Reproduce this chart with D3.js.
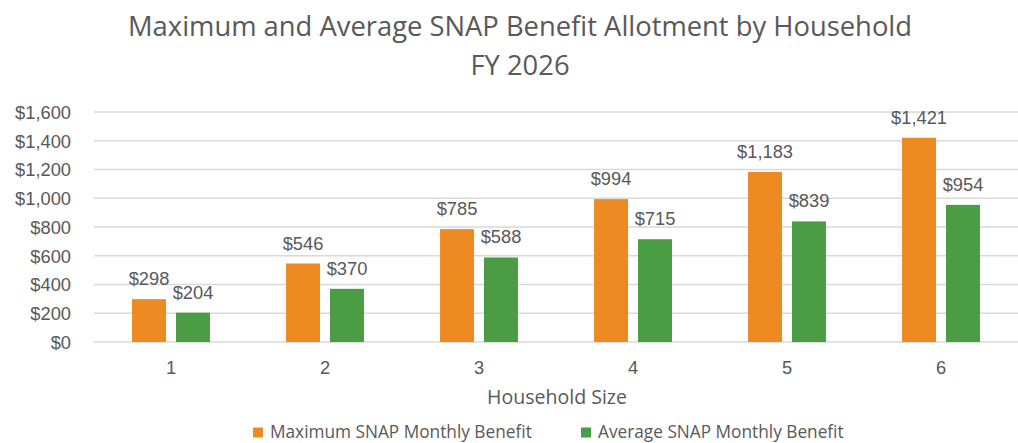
<!DOCTYPE html>
<html>
<head>
<meta charset="utf-8">
<script src="https://cdn.jsdelivr.net/npm/d3@7"></script>
<style>
html,body{margin:0;padding:0;background:#fff;}
svg{display:block;}
text{font-family:"Open Sans","Noto Sans",sans-serif;fill:#595959;}
.num{font-family:"Liberation Sans",Arial,sans-serif;}
</style>
</head>
<body>
<svg id="chart" width="1018" height="443"></svg>
<script>
const categories = ["1","2","3","4","5","6"];
const seriesNames = ["Maximum SNAP Monthly Benefit","Average SNAP Monthly Benefit"];
const maxBenefit = [298,546,785,994,1183,1421];
const avgBenefit = [204,370,588,715,839,954];
const yTicks = [0,200,400,600,800,1000,1200,1400,1600];
const colors = ["#EE8A22","#4A9D44"];
const titleLines = ["Maximum and Average SNAP Benefit Allotment by Household","FY 2026"];
const xTitle = "Household Size";

const svg = d3.select("#chart");
const plot = {left:94, right:1018, top:112, bottom:342};

// scale a text's font-size so it spans the target width
function fitSize(text, cls, base, target){
  const t = svg.append("text").attr("class", cls).style("font-size", base+"px").text(text);
  const w = t.node().getComputedTextLength();
  t.remove();
  return base*target/w;
}

const x = d3.scaleBand().domain(categories).range([plot.left, plot.right]).paddingInner(0.494).paddingOuter(0.247);
const xs = d3.scaleBand().domain([0,1]).range([0, x.bandwidth()]).paddingInner(0.227).paddingOuter(0);
const y = d3.scaleLinear().domain([0,1600]).range([plot.bottom, plot.top]);

// gridlines
svg.append("g").selectAll("line").data(yTicks).join("line")
  .attr("x1", plot.left).attr("x2", plot.right)
  .attr("y1", d=>y(d)).attr("y2", d=>y(d))
  .attr("stroke", "#d9d9d9").attr("stroke-width", 1.3);

const numFs = 18.3;

// y axis labels
const yAxis = d3.axisLeft(y).tickValues(yTicks).tickSize(0).tickPadding(0)
  .tickFormat(d => "$" + d3.format(",")(d));
const yg = svg.append("g").attr("transform", `translate(71,0)`).call(yAxis);
yg.select(".domain").remove();
yg.selectAll("text").attr("class","num").style("font-size",numFs+"px").attr("fill","#595959").attr("font-family",null).attr("dy","0.35em");

// x axis labels
const xAxis = d3.axisBottom(x).tickSize(0).tickPadding(0);
const xg = svg.append("g").attr("transform", `translate(0,${plot.bottom+19})`).call(xAxis);
xg.select(".domain").remove();
xg.selectAll("text").attr("class","num").style("font-size",numFs+"px").attr("fill","#595959").attr("font-family",null);

// bars
const data = categories.map((c,i)=>({c, vals:[maxBenefit[i], avgBenefit[i]]}));
const groups = svg.append("g").selectAll("g").data(data).join("g")
  .attr("transform", d=>`translate(${x(d.c)},0)`);
groups.selectAll("rect").data(d=>d.vals.map((v,k)=>({v,k}))).join("rect")
  .attr("x", d=>xs(d.k)).attr("width", xs.bandwidth())
  .attr("y", d=>y(d.v)).attr("height", d=>y(0)-y(d.v))
  .attr("fill", d=>colors[d.k]);
groups.selectAll("text.lbl").data(d=>d.vals.map((v,k)=>({v,k}))).join("text")
  .attr("class","lbl num")
  .attr("x", d=>xs(d.k)+xs.bandwidth()/2).attr("y", d=>y(d.v)-14)
  .attr("text-anchor","middle").style("font-size",numFs+"px")
  .text(d=>"$"+d3.format(",")(d.v));

// title
const fs = fitSize(titleLines[0], "", 26, 784);
svg.append("text").attr("x",520).attr("y",36).attr("text-anchor","middle")
  .style("font-size", fs+"px").text(titleLines[0]);
svg.append("text").attr("x",520).attr("y",75).attr("text-anchor","middle")
  .style("font-size", fs+"px").text(titleLines[1]);

// x title
const xfs = fitSize(xTitle, "", 17, 140);
svg.append("text").attr("x",557).attr("y",404).attr("text-anchor","middle")
  .style("font-size",xfs+"px").text(xTitle);

// legend
const lfs = fitSize(seriesNames[0], "", 15, 262);
const legX = [253, 581];
const leg = svg.append("g").selectAll("g").data(seriesNames).join("g")
  .attr("transform",(d,i)=>`translate(${legX[i]},0)`);
leg.append("rect").attr("x",0).attr("y",427.5).attr("width",10).attr("height",10).attr("fill",(d,i)=>colors[i]);
leg.append("text").attr("x",17).attr("y",438).style("font-size",lfs+"px").text(d=>d);
</script>
</body>
</html>
